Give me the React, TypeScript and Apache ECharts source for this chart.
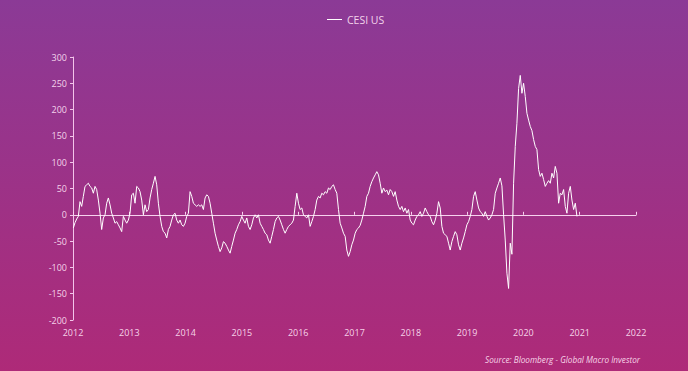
import React, { useEffect, useRef } from "react";
import * as echarts from "echarts";

// CESI US, sampled roughly every 10.8 days starting early Jan 2012
const startYear = 2012.006;
const stepYears = 0.02962;
const cesiValues: number[] = [
  // 2012
  -25, -15, -8, -3, 25, 16, 35, 54, 57, 60, 54, 51, 41, 54, 48, 28, 3, -28, -6, 0,
  22, 32, 19, 3, -6, -16, -13, -19, -25, -32, -3, -10, -16, -10,
  // 2013
  3, 38, 41, 22, 54, 51, 44, 28, 0, 19, 6, 10, 32, 48, 60, 73, 57, 22, -3, -22,
  -32, -35, -44, -28, -22, -10, 0, 3, -10, -16, -10, -19, -22, -16,
  // 2014
  -3, 3, 44, 35, 22, 19, 16, 19, 16, 19, 10, 32, 38, 35, 22, 3, -16, -35, -48, -60,
  -70, -63, -51, -54, -60, -67, -73, -60, -48, -35, -28, -19, -13, -3,
  // 2015-2016
  -10, -16, -6, -22, -28, -19, -6, 0, -6, 0, -16, -22, -28, -35, -38, -48, -54, -41, -28, -13,
  -6, -3, -10, -19, -28, -35, -28, -22, -19, -16, -10, 16, 41, 22, 10, 13, 0, -3, -6, 0,
  -22, -13, -3, 10, 28, 35, 32, 41, 38, 44, 41, 51, 48, 54, 57, 48, 41, 10, -16, -25,
  -35, -41, -67, -79, -70, -57, -48, -35, -28, -25, -20,
  // 2017-2018
  -10, 3, 16, 35, 41, 54, 63, 70, 76, 82, 76, 60, 41, 51, 44, 47, 38, 48, 44, 35,
  44, 28, 16, 10, 16, 6, 13, 3, 10, -10, -16, -19, -10, -3, 0, 6, -3, 3, 13, 6,
  0, -3, -13, -19, -10, 3, 25, 13, -22, -35, -38, -41, -54, -67, -51, -41, -32, -38, -57, -67,
  -54, -44, -32, -19, -13, -3, 10, 35, 44, 28, 13, 6, 3, -3, 6, -3, -10, -6, 0, 10,
  // 2019-2020
  41, 51, 60, 70, 55, 0, -48, -111, -140, -54, -75, 60, 130, 174, 240, 265, 231, 250, 225, 193,
  180, 168, 160, 143, 130, 124, 86, 73, 79, 67, 54, 60, 65, 60, 79, 70, 92, 79, 22, 41,
  38, 48, 16, 3, 41, 54, 28, 10, 22, -3,
];

const yMin = -200;
const yMax = 300;
const yStep = 50;
const xMin = 2012;
const xMax = 2022;
const seriesName = "CESI US";
const sourceText = "Source: Bloomberg - Global Macro Investor";

export default function App() {
  const ref = useRef<HTMLDivElement>(null);
  useEffect(() => {
    if (!ref.current) return;
    const chart = echarts.init(ref.current, undefined, { renderer: "svg" });
    const data = cesiValues.map((v, i) => [startYear + i * stepYears, v]);
    const textColor = "rgba(255,225,245,0.92)";
    chart.setOption({
      animation: false,
      backgroundColor: new echarts.graphic.LinearGradient(0, 0, 0, 1, [
        { offset: 0, color: "#8b3a96" },
        { offset: 1, color: "#ae2a78" },
      ]),
      legend: {
        top: 9,
        left: 322,
        icon: "rect",
        itemWidth: 15,
        itemHeight: 1,
        itemGap: 6,
        textStyle: { color: textColor, fontSize: 10.5, fontFamily: "Open Sans" },
        data: [seriesName],
      },
      grid: { left: 73, right: 52, top: 57, bottom: 51, containLabel: false },
      xAxis: [
        {
          type: "value",
          min: xMin,
          max: xMax,
          interval: 1,
          position: "bottom",
          axisLine: { show: false, onZero: false },
          axisTick: { show: false },
          splitLine: { show: false },
          axisLabel: {
            color: textColor,
            fontSize: 9,
            fontFamily: "Open Sans",
            margin: 8,
            formatter: (v: number) => String(Math.round(v)),
          },
        },
        {
          type: "value",
          min: xMin,
          max: xMax,
          interval: 1,
          position: "top",
          axisLine: { show: true, onZero: true, lineStyle: { color: "#f7d2ee", width: 1 } },
          axisTick: { show: true, length: 3, lineStyle: { color: "#f7d2ee" } },
          axisLabel: { show: false },
          splitLine: { show: false },
        },
      ],
      yAxis: {
        type: "value",
        min: yMin,
        max: yMax,
        interval: yStep,
        axisLine: { show: true, lineStyle: { color: "#f3c4ea", width: 1 } },
        axisTick: { show: true, length: 3, lineStyle: { color: "#f3c4ea" } },
        splitLine: { show: false },
        axisLabel: { color: textColor, fontSize: 9, fontFamily: "Open Sans", margin: 6 },
      },
      series: [
        {
          name: seriesName,
          type: "line",
          xAxisIndex: 0,
          data,
          showSymbol: false,
          symbol: "none",
          lineStyle: { color: "#ffffff", width: 1 },
          itemStyle: { color: "#ffffff" },
          z: 3,
        },
      ],
      graphic: [
        {
          type: "text",
          right: 48,
          top: 355,
          style: {
            text: sourceText,
            fill: textColor,
            fontSize: 8.2,
            fontStyle: "italic",
            fontFamily: "Open Sans",
          },
        },
      ],
    });
    return () => chart.dispose();
  }, []);
  return (
    <div
      ref={ref}
      style={{ position: "fixed", left: 0, top: 0, width: 688, height: 371 }}
    />
  );
}
